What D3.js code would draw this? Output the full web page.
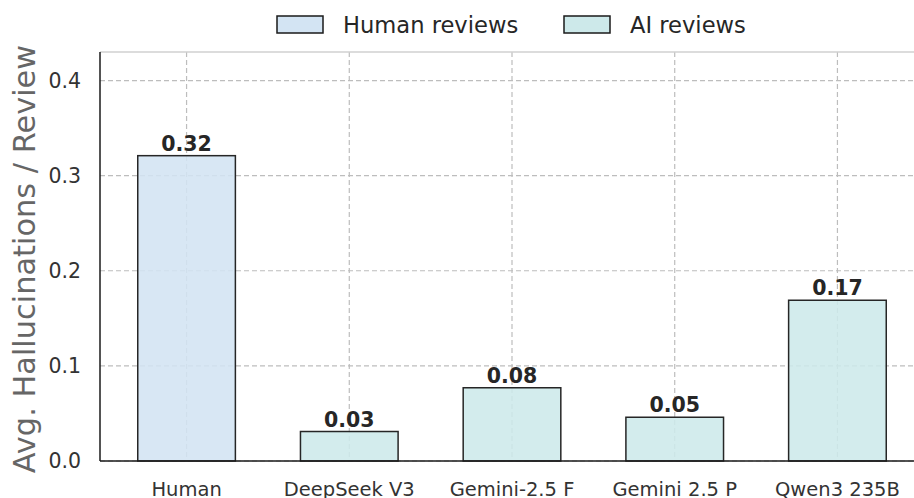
<!DOCTYPE html>
<html>
<head>
<meta charset="utf-8">
<script src="https://cdn.jsdelivr.net/npm/d3@7"></script>
<style>
  body { margin: 0; background: #fff; }
  svg { font-family: "DejaVu Sans", sans-serif; display: block; }
</style>
</head>
<body>
<div id="chart"></div>
<script>
// data
const models = ["Human", "DeepSeek V3", "Gemini-2.5 F", "Gemini 2.5 P", "Qwen3 235B"];
const values = [0.321, 0.031, 0.077, 0.046, 0.169];
const groups = ["human", "ai", "ai", "ai", "ai"];
const yTicks = [0.0, 0.1, 0.2, 0.3, 0.4];
const legendItems = [
  {key: "human", label: "Human reviews"},
  {key: "ai", label: "AI reviews"}
];

(function bar_chart(){
const W = 914, H = 498;
const left = 100, right = 924, topY = 52, bottomY = 461;

const colors = {human: "#d3e4f3", ai: "#cde9ea"};

const svg = d3.select("#chart").append("svg")
  .attr("width", W)
  .attr("height", H);

const x = d3.scaleBand()
  .domain(models)
  .range([left, right])
  .paddingInner(0.4)
  .paddingOuter(0.232);

const y = d3.scaleLinear()
  .domain([0, 0.43])
  .range([bottomY, topY]);

// grid
const dash = "5,3";
svg.append("g")
  .selectAll("line")
  .data(yTicks)
  .join("line")
    .attr("x1", left).attr("x2", right)
    .attr("y1", d => y(d)).attr("y2", d => y(d))
    .attr("stroke", "#bdbdbd")
    .attr("stroke-width", 1.2)
    .attr("stroke-dasharray", dash);

svg.append("g")
  .selectAll("line")
  .data(models)
  .join("line")
    .attr("x1", d => x(d) + x.bandwidth() / 2)
    .attr("x2", d => x(d) + x.bandwidth() / 2)
    .attr("y1", topY).attr("y2", bottomY)
    .attr("stroke", "#bdbdbd")
    .attr("stroke-width", 1.2)
    .attr("stroke-dasharray", dash);

// top spine (light)
svg.append("line")
  .attr("x1", left).attr("x2", right)
  .attr("y1", topY).attr("y2", topY)
  .attr("stroke", "#d0d0d0").attr("stroke-width", 1.5);

// bars
svg.append("g")
  .selectAll("rect")
  .data(models)
  .join("rect")
    .attr("x", d => x(d))
    .attr("y", (d, i) => y(values[i]))
    .attr("width", x.bandwidth())
    .attr("height", (d, i) => bottomY - y(values[i]))
    .attr("fill", (d, i) => colors[groups[i]])
    .attr("fill-opacity", 0.88)
    .attr("stroke", "#262626")
    .attr("stroke-width", 1.5);

// value labels
svg.append("g")
  .selectAll("text")
  .data(models)
  .join("text")
    .attr("x", d => x(d) + x.bandwidth() / 2)
    .attr("y", (d, i) => y(values[i]) - 5)
    .attr("text-anchor", "middle")
    .attr("font-size", 20.5)
    .attr("font-weight", "bold")
    .attr("fill", "#262626")
    .text((d, i) => values[i].toFixed(2));

// axes
const yAxis = svg.append("g")
  .attr("transform", `translate(${left},0)`)
  .call(d3.axisLeft(y).tickValues(yTicks).tickFormat(d3.format(".1f")).tickSize(0).tickPadding(19));
yAxis.select(".domain").remove();
yAxis.selectAll("text")
  .attr("font-size", 20.5)
  .attr("font-family", "DejaVu Sans")
  .attr("fill", "#333");

const xAxis = svg.append("g")
  .attr("transform", `translate(0,${bottomY})`)
  .call(d3.axisBottom(x).tickSize(0).tickPadding(21));
xAxis.select(".domain").remove();
xAxis.selectAll("text")
  .attr("font-size", 19.5)
  .attr("font-family", "DejaVu Sans")
  .attr("fill", "#333");

// black spines
svg.append("line")
  .attr("x1", left).attr("x2", left)
  .attr("y1", topY).attr("y2", bottomY)
  .attr("stroke", "#1a1a1a").attr("stroke-width", 1.5);
svg.append("line")
  .attr("x1", left).attr("x2", right)
  .attr("y1", bottomY).attr("y2", bottomY)
  .attr("stroke", "#1a1a1a").attr("stroke-width", 1.5);

// y label
svg.append("text")
  .attr("transform", "translate(35,259) rotate(-90)")
  .attr("text-anchor", "middle")
  .attr("font-size", 30.4)
  .attr("fill", "#666")
  .text("Avg. Hallucinations / Review");

// legend
const legend = svg.append("g");
const legX = [277, 564];
legendItems.forEach((item, i) => {
  const g = legend.append("g").attr("transform", `translate(${legX[i]},16)`);
  g.append("rect")
    .attr("width", 46).attr("height", 17)
    .attr("fill", colors[item.key])
    .attr("stroke", "#1a1a1a")
    .attr("stroke-width", 1.5);
  g.append("text")
    .attr("x", 66).attr("y", 17)
    .attr("font-size", 22.6)
    .attr("fill", "#262626")
    .text(item.label);
});
})();
</script>
</body>
</html>
